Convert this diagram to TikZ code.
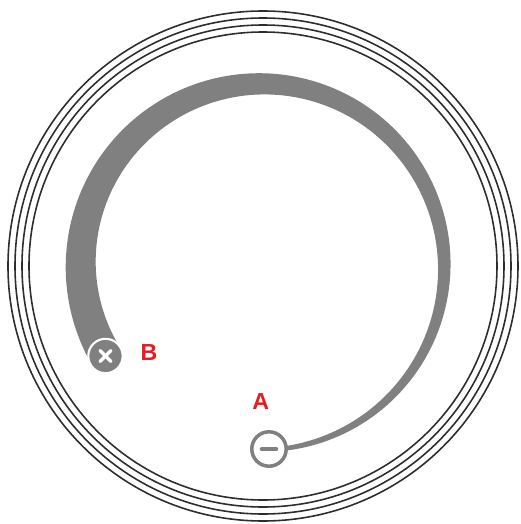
\documentclass[tikz,border=0pt]{standalone}
\usepackage{fontspec}
\newfontfamily\labelfont{Liberation Sans}
\usetikzlibrary{positioning}
\definecolor{knobGray}{RGB}{128,128,128}
\definecolor{rimBlack}{RGB}{45,45,45}
\definecolor{labelRed}{RGB}{228,28,36}

\begin{document}
\begin{tikzpicture}[
            x=0.01cm, y=0.01cm,
            rim/.style={draw=rimBlack, line width=0.45pt},
            knob/.style={circle, inner sep=0pt, minimum size=0.344cm},
            tag/.style={font=\labelfont\bfseries\fontsize{6.6}{7}\selectfont, text=labelRed, inner sep=0pt},
            declare function={tt(\a)=(\a+87.2)/297.7; ro(\a)=193-7*(1-tt(\a))^3+2*tt(\a)^4; wd(\a)=4+29*tt(\a);}
        ]
            \useasboundingbox (-260,-259) rectangle (260,265);

            % outer rims
            \foreach \r in {255,248,241,234}
                \draw[rim] (3,-1) circle (\r);

            % tapering level band
            \fill[knobGray] plot[domain=-87.2:208, samples=160, smooth] ({cos(\x)*ro(\x)}, {-1+sin(\x)*ro(\x)})
                -- plot[domain=208:-87.2, samples=160, smooth] ({cos(\x)*(ro(\x)-wd(\x))}, {-1+sin(\x)*(ro(\x)-wd(\x))})
                -- cycle;

            % knobs
            \node[knob, fill=knobGray, draw=white, line width=0.6pt] (B) at (-154.5,-91) {};
            \draw[white, line width=1pt, line cap=round] ([shift={(-5.5,-5.5)}]B.center) -- ([shift={(5.5,5.5)}]B.center);
            \draw[white, line width=1pt, line cap=round] ([shift={(-5.5,5.5)}]B.center) -- ([shift={(5.5,-5.5)}]B.center);

            \node[knob, fill=white, draw=knobGray, line width=1pt] (A) at (9,-184) {};
            \draw[knobGray, line width=1pt, line cap=round] ([shift={(-7.5,0)}]A.center) -- ([shift={(7.5,0)}]A.center);

            % labels
            \node[tag] (labB) at (-111,-87.5) {B};
            \node[tag] (labA) at (0.7,-137) {A};
        \end{tikzpicture}
\end{document}
